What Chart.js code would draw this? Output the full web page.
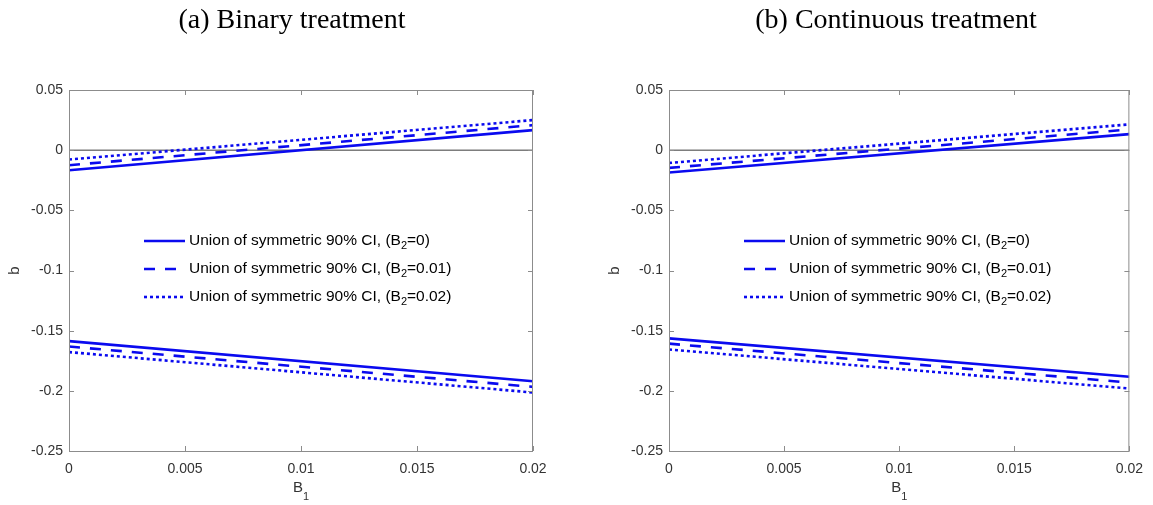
<!DOCTYPE html>
<html>
<head>
<meta charset="utf-8">
<script src="https://cdn.jsdelivr.net/npm/chart.js@4.4.1/dist/chart.umd.min.js"></script>
<style>
  body { margin: 0; width: 1153px; height: 505px; background: #fff; position: relative; overflow: hidden; }
  .panel { position: absolute; top: 0; }
</style>
</head>
<body>
<div class="panel" style="left:0"><canvas id="binaryChart" width="576" height="505"></canvas></div>
<div class="panel" style="left:576px"><canvas id="continuousChart" width="577" height="505"></canvas></div>
<script>
const b1Range = [0, 0.02];
const bZero = [0, 0];
const b2Levels = ['0', '0.01', '0.02'];

// bounds of b at B1 = 0 and B1 = 0.02, one pair per B2 level
const binaryUpper = [[-0.0167, 0.0167], [-0.0125, 0.0208], [-0.0078, 0.0250]];
const binaryLower = [[-0.1587, -0.1920], [-0.1632, -0.1967], [-0.1678, -0.2014]];
const continuousUpper = [[-0.0186, 0.0133], [-0.0147, 0.0172], [-0.0106, 0.0214]];
const continuousLower = [[-0.1564, -0.1883], [-0.1608, -0.1931], [-0.1656, -0.1981]];

const bTicks = [-0.25, -0.2, -0.15, -0.1, -0.05, 0, 0.05];
const bTickLabels = ['-0.25', '-0.2', '-0.15', '-0.1', '-0.05', '0', '0.05'];
const b1Ticks = [0, 0.005, 0.01, 0.015, 0.02];
const b1TickLabels = ['0', '0.005', '0.01', '0.015', '0.02'];

const lineBlue = '#0a0aef';
const dashStyles = [[], [11, 10], [3, 3]];
const frameColor = '#8c8c8c';
const textColor = '#333333';
const sansFont = 'Arial, "Liberation Sans", sans-serif';

function toPoints(vals) {
    return b1Range.map((x, i) => ({ x: x, y: vals[i] }));
}

function buildDatasets(upper, lower) {
    const sets = [{ data: toPoints(bZero), borderColor: '#3a3a3a', borderWidth: 1, order: 1 }];
    b2Levels.forEach((lvl, i) => {
        const style = { borderColor: lineBlue, borderWidth: 2.6, borderDash: dashStyles[i], order: 0 };
        sets.push({ ...style, data: toPoints(upper[i]), b2: lvl, inLegend: true });
        sets.push({ ...style, data: toPoints(lower[i]), b2: lvl });
    });
    return sets;
}

// box, inward ticks, titles and in-axes legend
const matlabAxes = {
    id: 'matlabAxes',
    afterDatasetsDraw(chart, args, opts) {
        const { ctx, chartArea: ca, scales } = chart;
        ctx.save();

        ctx.strokeStyle = frameColor;
        ctx.lineWidth = 1;
        ctx.strokeRect(ca.left + 0.5, ca.top + 0.5, ca.width - 1, ca.height);
        ctx.beginPath();
        b1Ticks.forEach(v => {
            const px = Math.round(scales.x.getPixelForValue(v)) + 0.5;
            ctx.moveTo(px, ca.bottom); ctx.lineTo(px, ca.bottom - 5);
            ctx.moveTo(px, ca.top); ctx.lineTo(px, ca.top + 5);
        });
        bTicks.forEach(v => {
            const py = Math.round(scales.y.getPixelForValue(v)) + 0.5;
            ctx.moveTo(ca.left, py); ctx.lineTo(ca.left + 5, py);
            ctx.moveTo(ca.right, py); ctx.lineTo(ca.right - 5, py);
        });
        ctx.stroke();

        // panel title
        ctx.fillStyle = '#000';
        ctx.font = '28px "Liberation Serif", "Times New Roman", serif';
        ctx.textAlign = 'center';
        ctx.textBaseline = 'alphabetic';
        ctx.fillText(opts.title, opts.titleX, 28);

        // axis titles
        ctx.fillStyle = textColor;
        ctx.font = '15px ' + sansFont;
        ctx.save();
        ctx.translate(ca.left - 54, (ca.top + ca.bottom) / 2);
        ctx.rotate(-Math.PI / 2);
        ctx.textBaseline = 'middle';
        ctx.fillText('b', 0, 0);
        ctx.restore();

        ctx.textAlign = 'left';
        ctx.textBaseline = 'alphabetic';
        const bw = ctx.measureText('B').width;
        ctx.font = '11px ' + sansFont;
        const sw = ctx.measureText('1').width;
        const bx = (ca.left + ca.right) / 2 - (bw + sw) / 2;
        ctx.font = '15px ' + sansFont;
        ctx.fillText('B', bx, ca.bottom + 41);
        ctx.font = '11px ' + sansFont;
        ctx.fillText('1', bx + bw, ca.bottom + 49);

        // legend
        let row = 0;
        chart.data.datasets.forEach(ds => {
            if (!ds.inLegend) return;
            const y = ca.top + 151 + row * 28;
            ctx.strokeStyle = ds.borderColor;
            ctx.lineWidth = ds.borderWidth;
            ctx.setLineDash(ds.borderDash);
            ctx.beginPath();
            ctx.moveTo(ca.left + 75, y);
            ctx.lineTo(ca.left + 116, y);
            ctx.stroke();
            ctx.setLineDash([]);

            ctx.fillStyle = '#000';
            ctx.textBaseline = 'middle';
            let tx = ca.left + 120;
            const pre = 'Union of symmetric 90% CI, (B';
            ctx.font = '15.5px ' + sansFont;
            ctx.fillText(pre, tx, y);
            tx += ctx.measureText(pre).width;
            ctx.font = '11px ' + sansFont;
            ctx.fillText('2', tx, y + 5);
            tx += ctx.measureText('2').width;
            ctx.font = '15.5px ' + sansFont;
            ctx.fillText('=' + ds.b2 + ')', tx, y);
            row++;
        });

        ctx.restore();
    }
};

function makeChart(id, upper, lower, pad, title, titleX) {
    new Chart(document.getElementById(id), {
        type: 'line',
        data: { datasets: buildDatasets(upper, lower) },
        options: {
            responsive: false,
            animation: false,
            devicePixelRatio: 1,
            layout: { padding: pad },
            elements: { point: { radius: 0 }, line: { tension: 0, borderCapStyle: 'butt' } },
            plugins: {
                legend: { display: false },
                tooltip: { enabled: false },
                matlabAxes: { title: title, titleX: titleX }
            },
            scales: {
                x: {
                    type: 'linear',
                    min: b1Range[0],
                    max: b1Range[1],
                    grid: { display: false, drawTicks: false },
                    border: { display: false },
                    afterBuildTicks: s => { s.ticks = b1Ticks.map(value => ({ value })); },
                    afterFit: s => { s.height = 54; },
                    ticks: {
                        autoSkip: false,
                        maxRotation: 0,
                        padding: 10,
                        color: textColor,
                        font: { family: sansFont, size: 14 },
                        callback: (v, i) => b1TickLabels[i]
                    }
                },
                y: {
                    min: -0.25,
                    max: 0.05,
                    grid: { display: false, drawTicks: false },
                    border: { display: false },
                    afterBuildTicks: s => { s.ticks = bTicks.map(value => ({ value })); },
                    afterFit: s => { s.width = 60; },
                    ticks: {
                        autoSkip: false,
                        padding: 6,
                        color: textColor,
                        font: { family: sansFont, size: 14 },
                        callback: (v, i) => bTickLabels[i]
                    }
                }
            }
        },
        plugins: [matlabAxes]
    });
}

makeChart('binaryChart', binaryUpper, binaryLower,
    { left: 9, right: 43, top: 90, bottom: 0 }, '(a) Binary treatment', 292);
makeChart('continuousChart', continuousUpper, continuousLower,
    { left: 33, right: 20, top: 90, bottom: 0 }, '(b) Continuous treatment', 320);
</script>
</body>
</html>
